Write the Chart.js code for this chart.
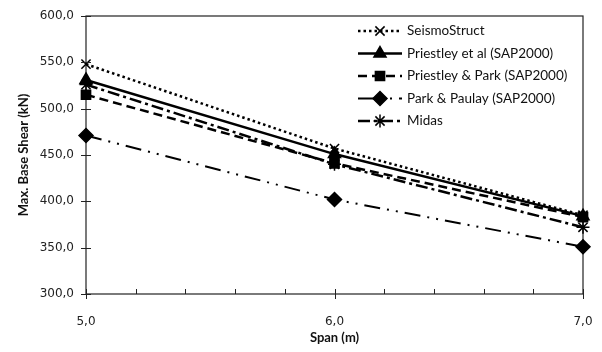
<!DOCTYPE html>
<html>
<head>
<meta charset="utf-8">
<script src="https://cdn.jsdelivr.net/npm/chart.js@4/dist/chart.umd.min.js"></script>
<style>
  html, body { margin: 0; padding: 0; background: #fff; }
  #wrap { width: 602px; height: 352px; position: relative; }
</style>
</head>
<body>
<div id="wrap"><canvas id="shearChart"></canvas></div>
<script>
// Span values (m) and max base shear (kN) per analysis method
const spans = [5, 6, 7];
const seismoStruct = [548, 457, 385];
const priestleyEtAl = [531, 451, 384];
const priestleyPark = [515, 441, 383];
const parkPaulay = [471, 402, 351];
const midas = [526, 440, 372];

const seriesNames = [
    'SeismoStruct',
    'Priestley et al (SAP2000)',
    'Priestley & Park (SAP2000)',
    'Park & Paulay (SAP2000)',
    'Midas'
];

const INK = '#000';
const TICK_FONT = { family: "'DejaVu Sans', sans-serif", size: 12 };
const LABEL_FONT = "'Lato', 'Noto Sans', sans-serif";

const fmt = v => v.toFixed(1).replace('.', ',');
const toPoints = ys => spans.map((x, i) => ({ x: x, y: ys[i] }));

function series(name, ys, dash, width, marker, radius) {
    return {
        label: name,
        data: toPoints(ys),
        borderColor: INK,
        backgroundColor: INK,
        borderWidth: width,
        borderDash: dash,
        pointStyle: marker,
        pointRadius: radius,
        pointBorderWidth: 1.5,
        pointBorderColor: INK,
        pointBackgroundColor: INK,
        tension: 0,
        clip: false
    };
}

// Tick marks crossing the axes, drawn from the scales' own ticks
const axisTicks = {
    id: 'axisTicks',
    afterDraw(chart) {
        const { ctx, chartArea: a, scales: { x, y } } = chart;
        ctx.save();
        ctx.strokeStyle = '#222';
        ctx.lineWidth = 1;
        ctx.beginPath();
        y.ticks.forEach(t => {
            const py = Math.round(y.getPixelForValue(t.value)) + 0.5;
            ctx.moveTo(a.left - 5, py);
            ctx.lineTo(a.left + 5, py);
        });
        x.ticks.forEach(t => {
            const px = Math.round(x.getPixelForValue(t.value)) + 0.5;
            const major = Math.abs(t.value - Math.round(t.value)) < 1e-6;
            ctx.moveTo(px, a.bottom - 5);
            ctx.lineTo(px, major ? a.bottom + 5 : a.bottom);
        });
        ctx.stroke();
        ctx.restore();
    }
};

// Legend with line sample + marker for each series
const lineLegend = {
    id: 'lineLegend',
    afterDraw(chart) {
        const ctx = chart.ctx;
        const x0 = 358, x1 = 402, textX = 407;
        const rows = [31, 53.5, 76, 98.5, 121];
        ctx.save();
        chart.data.datasets.forEach((ds, i) => {
            const yy = rows[i];
            ctx.strokeStyle = INK;
            ctx.lineWidth = ds.borderWidth;
            ctx.setLineDash(ds.borderDash);
            ctx.beginPath();
            ctx.moveTo(x0, yy);
            ctx.lineTo(x1, yy);
            ctx.stroke();
            ctx.setLineDash([]);
            ctx.fillStyle = INK;
            ctx.lineWidth = 1.5;
            Chart.helpers.drawPoint(ctx, {
                pointStyle: ds.pointStyle,
                radius: ds.pointRadius,
                borderWidth: 1.5,
                rotation: 0
            }, (x0 + x1) / 2, yy);
            ctx.fillStyle = '#111';
            ctx.font = '13.5px ' + LABEL_FONT;
            ctx.textBaseline = 'middle';
            ctx.fillText(ds.label, textX, yy);
        });
        ctx.restore();
    }
};

// Full frame around the plot area
const plotFrame = {
    id: 'plotFrame',
    beforeDatasetsDraw(chart) {
        const { ctx, chartArea: a } = chart;
        ctx.save();
        ctx.strokeStyle = '#222';
        ctx.lineWidth = 1.2;
        ctx.strokeRect(a.left, a.top, a.right - a.left, a.bottom - a.top);
        ctx.restore();
    }
};

new Chart(document.getElementById('shearChart'), {
    type: 'line',
    data: {
        datasets: [
            series(seriesNames[0], seismoStruct, [2.5, 3], 2.5, 'crossRot', 6.5),
            series(seriesNames[1], priestleyEtAl, [], 2.5, 'triangle', 7),
            series(seriesNames[2], priestleyPark, [9, 5], 2.5, 'rect', 6.5),
            series(seriesNames[3], parkPaulay, [16, 7, 2, 7, 2, 7], 2, 'rectRot', 7),
            series(seriesNames[4], midas, [12, 4, 3, 4], 2.5, 'star', 6.5)
        ]
    },
    options: {
        responsive: true,
        maintainAspectRatio: false,
        animation: false,
        layout: { padding: { left: 8, right: 19, top: 16, bottom: 6 } },
        plugins: {
            legend: { display: false },
            tooltip: { enabled: false }
        },
        scales: {
            x: {
                type: 'linear',
                min: 5,
                max: 7,
                ticks: {
                    stepSize: 0.2,
                    autoSkip: false,
                    maxRotation: 0,
                    color: '#222',
                    font: TICK_FONT,
                    padding: 21,
                    callback: v => Math.abs(v - Math.round(v)) < 1e-6 ? fmt(v) : ''
                },
                grid: { display: false, drawTicks: false },
                border: { display: false },
                title: {
                    display: true,
                    text: 'Span (m)',
                    color: '#111',
                    font: { family: LABEL_FONT, size: 13, weight: 'bold' },
                    padding: { top: 2, bottom: 0 }
                },
                afterFit: s => {
                    s.height = 352 - 294 - 6;
                    s.paddingLeft = 0;
                    s.paddingRight = 0;
                }
            },
            y: {
                min: 300,
                max: 600,
                ticks: {
                    stepSize: 50,
                    color: '#222',
                    font: TICK_FONT,
                    padding: 12,
                    callback: v => fmt(v)
                },
                grid: { display: false, drawTicks: false },
                border: { display: false },
                title: {
                    display: true,
                    text: 'Max. Base Shear (kN)',
                    color: '#111',
                    font: { family: LABEL_FONT, size: 13, weight: 'bold' },
                    padding: { top: 8, bottom: 0 }
                },
                afterFit: s => {
                    s.width = 86 - 8;
                    s.paddingTop = 0;
                    s.paddingBottom = 0;
                }
            }
        }
    },
    plugins: [plotFrame, axisTicks, lineLegend]
});
</script>
</body>
</html>
